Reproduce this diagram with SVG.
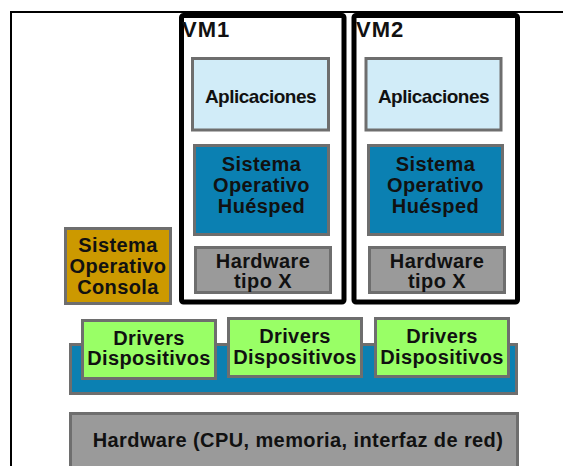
<svg xmlns="http://www.w3.org/2000/svg" width="563" height="466" viewBox="0 0 563 466">
<style>
text{font-family:"Liberation Sans",Arial,sans-serif;font-weight:bold;font-size:20px;fill:#111;text-anchor:middle;letter-spacing:0.4px}
.vm{fill:#fff;stroke:#000;stroke-width:5}
.box{stroke:#6e6e6e;stroke-width:3}
.app{fill:#d1ecf8}
.os{fill:#0b80b2}
.hw{fill:#9a9a9a}
.drv{fill:#99ff66}
.con{fill:#cc9900}
.lbl{font-size:22px;text-anchor:start;letter-spacing:1px}
.apt{font-size:19px;letter-spacing:-0.5px}
</style>
<rect width="563" height="466" fill="#fff"/>
<path d="M11,466 V12 H563" fill="none" stroke="#000" stroke-width="2"/>
<g id="vm1">
<rect class="vm" x="181.5" y="15.5" width="162.5" height="286.5" rx="2"/>
<text class="lbl" x="182" y="37">VM1</text>
</g>
<g id="vm2">
<rect class="vm" x="354" y="15.5" width="163.5" height="286.5" rx="2"/>
<text class="lbl" x="356" y="37">VM2</text>
</g>
<g id="app1">
<rect class="box app" x="192.5" y="58.5" width="136" height="71.5"/>
<text class="apt" x="260.5" y="103">Aplicaciones</text>
</g>
<g id="app2">
<rect class="box app" x="366" y="58.5" width="135" height="71.5"/>
<text class="apt" x="433.5" y="103">Aplicaciones</text>
</g>
<g id="os1">
<rect class="box os" x="194.5" y="145.5" width="134" height="89"/>
<text x="261.5" y="171">Sistema</text>
<text x="261.5" y="192">Operativo</text>
<text x="261.5" y="213">Huésped</text>
</g>
<g id="os2">
<rect class="box os" x="368.5" y="145.5" width="134" height="89"/>
<text x="435.5" y="171">Sistema</text>
<text x="435.5" y="192">Operativo</text>
<text x="435.5" y="213">Huésped</text>
</g>
<g id="hwx1">
<rect class="box hw" x="195.5" y="247.5" width="135" height="45"/>
<text x="263" y="268">Hardware</text>
<text x="263" y="288">tipo X</text>
</g>
<g id="hwx2">
<rect class="box hw" x="369.5" y="247.5" width="135" height="45"/>
<text x="437" y="268">Hardware</text>
<text x="437" y="288">tipo X</text>
</g>
<g id="consola">
<rect class="box con" x="65.5" y="228.5" width="105" height="75"/>
<text x="118" y="252">Sistema</text>
<text x="118" y="273">Operativo</text>
<text x="118" y="294">Consola</text>
</g>
<g id="hipervisor">
<rect class="box os" x="70.5" y="344.5" width="446" height="49"/>
</g>
<g id="drv1">
<rect class="box drv" x="82.5" y="320.5" width="133" height="58"/>
<text x="149" y="345">Drivers</text>
<text x="149" y="365">Dispositivos</text>
</g>
<g id="drv2">
<rect class="box drv" x="228.5" y="318.5" width="133" height="58"/>
<text x="295" y="343">Drivers</text>
<text x="295" y="364">Dispositivos</text>
</g>
<g id="drv3">
<rect class="box drv" x="375.5" y="318.5" width="133" height="58"/>
<text x="442" y="343">Drivers</text>
<text x="442" y="364">Dispositivos</text>
</g>
<g id="hardware">
<rect class="box hw" x="70.5" y="413.5" width="447" height="60"/>
<text x="298" y="447">Hardware (CPU, memoria, interfaz de red)</text>
</g>
<g id="connectors"></g>
</svg>
